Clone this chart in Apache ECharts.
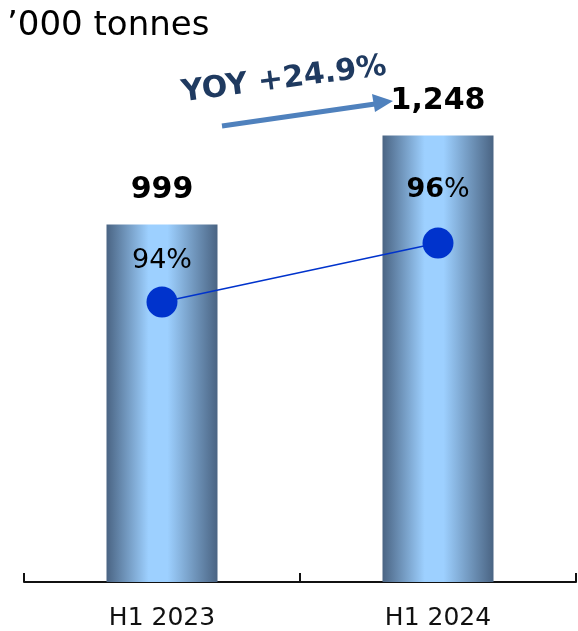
<!DOCTYPE html>
<html>
<head>
<meta charset="utf-8">
<script src="https://cdn.jsdelivr.net/npm/echarts@6/dist/echarts.min.js"></script>
<style>
  html, body { margin: 0; padding: 0; background: #fff; }
  #chart { width: 578px; height: 631px; }
</style>
</head>
<body>
<div id="chart"></div>
<script>
const categories = ['H1 2023', 'H1 2024'];
const volumes = [999, 1248];
const utilisation = [94, 96];
const unitLabel = '\u2019000 tonnes';
const yoyLabel = 'YOY +24.9%';

const FONT = 'DejaVu Sans';
const chart = echarts.init(document.getElementById('chart'));

const barGradient = new echarts.graphic.LinearGradient(0, 0, 1, 0, [
  { offset: 0, color: '#4a6483' },
  { offset: 0.38, color: '#9dd0ff' },
  { offset: 0.55, color: '#9dd0ff' },
  { offset: 1, color: '#4a6483' },
]);

// label gap above each dot differs a bit in the original
const pctLabelGap = [12, 24];

const option = {
  animation: false,
  grid: { left: 24, right: 2, top: 81, bottom: 48 },
  xAxis: {
    type: 'category',
    data: categories,
    boundaryGap: true,
    axisLine: { show: true, lineStyle: { color: '#111', width: 2 } },
    axisTick: { show: true, inside: true, alignWithLabel: false, length: 9, lineStyle: { color: '#111', width: 2 } },
    axisLabel: { color: '#111', fontSize: 25, fontFamily: FONT, margin: 24 },
  },
  yAxis: [
    { type: 'value', min: 0, max: 1400, show: false },
    { type: 'value', min: 84.5, max: 101.5, show: false },
  ],
  series: [
    {
      type: 'bar',
      data: volumes,
      barWidth: 111,
      itemStyle: { color: barGradient },
      label: {
        show: true,
        position: 'top',
        distance: 19,
        color: '#000',
        fontSize: 30,
        fontWeight: 'bold',
        fontFamily: FONT,
        formatter: (p) => p.value.toLocaleString('en-US'),
      },
    },
    {
      type: 'line',
      yAxisIndex: 1,
      data: utilisation.map((v, i) => ({ value: v, label: { distance: pctLabelGap[i] } })),
      symbol: 'circle',
      symbolSize: 31,
      lineStyle: { color: '#0033cc', width: 1.5 },
      itemStyle: { color: '#0033cc' },
      label: {
        show: true,
        position: 'top',
        fontFamily: FONT,
        formatter: (p) => p.dataIndex === 1 ? '{b|' + p.value + '}{n|%}' : '{n|' + p.value + '%}',
        rich: {
          b: { fontSize: 27, fontWeight: 'bold', color: '#000', fontFamily: FONT },
          n: { fontSize: 27, color: '#000', fontFamily: FONT },
        },
      },
    },
  ],
  graphic: [
    {
      type: 'text',
      left: 7,
      top: 9,
      style: { text: unitLabel, fontSize: 34, fontFamily: FONT, fill: '#000' },
    },
    {
      type: 'text',
      x: 284,
      y: 80,
      rotation: 7.5 * Math.PI / 180,
      style: {
        text: yoyLabel,
        fontSize: 30,
        fontWeight: 'bold',
        fontFamily: FONT,
        fill: '#1f3a60',
        align: 'center',
        verticalAlign: 'middle',
      },
    },
    {
      type: 'line',
      shape: { x1: 222, y1: 126, x2: 375, y2: 104 },
      style: { stroke: '#4f81bd', lineWidth: 5 },
    },
    {
      type: 'polygon',
      shape: { points: [[393, 101], [372, 94], [375, 112]] },
      style: { fill: '#4f81bd' },
    },
  ],
};

chart.setOption(option);
</script>
</body>
</html>
